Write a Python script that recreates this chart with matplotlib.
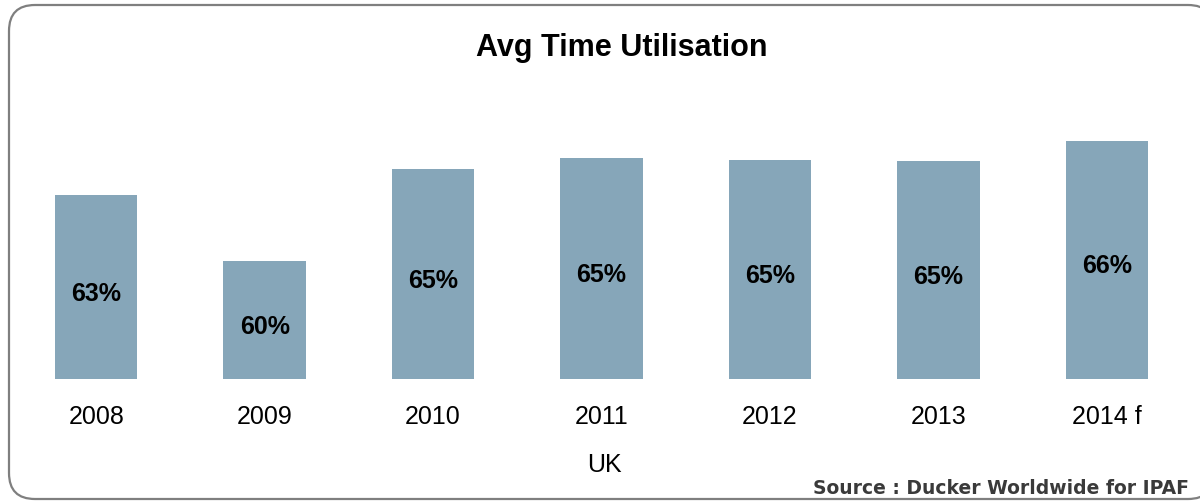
import matplotlib.pyplot as plt
from matplotlib.patches import FancyBboxPatch

# Data
years = ['2008', '2009', '2010', '2011', '2012', '2013', '2014 f']
utilisation = [63.4, 60.4, 64.6, 65.1, 65.0, 64.95, 65.9]
region = 'UK'

plt.rcParams['font.family'] = ['Liberation Sans', 'DejaVu Sans']

fig = plt.figure(figsize=(12, 5.02), dpi=100)

# background axes in pixel units, holding the rounded frame
bg = fig.add_axes([0, 0, 1, 1], zorder=-1)
bg.set_xlim(0, 1200)
bg.set_ylim(502, 0)
bg.axis('off')
bg.add_patch(FancyBboxPatch((9, 6), 1205, 494,
                            boxstyle='round,pad=0,rounding_size=26',
                            facecolor='white', edgecolor='#7f7f7f',
                            linewidth=1.6))

ax = fig.add_axes([12 / 1200, 122 / 502, 1179 / 1200, 328 / 502])
ax.patch.set_alpha(0)

x = range(len(years))
ax.bar(x, [v - 55 for v in utilisation], bottom=55, width=0.49, color='#86a6b9')

for i, v in zip(x, utilisation):
    ax.annotate(f'{round(v)}%', (i, (55 + v) / 2), xytext=(0, -4),
                textcoords='offset points', ha='center', va='center',
                fontsize=18, fontweight='bold', color='black')

ax.set_xlim(-0.5, len(years) - 0.5)
ax.set_ylim(55, 70)
ax.set_xticks(list(x))
ax.set_xticklabels(years, fontsize=18)
ax.tick_params(axis='x', length=0, pad=18)
ax.set_yticks([])
for s in ax.spines.values():
    s.set_visible(False)

fig.text(0.518, 1 - 48 / 502, 'Avg Time Utilisation', ha='center', va='center',
         fontsize=22, fontweight='bold')
fig.text(604 / 1200, 1 - 465 / 502, region, ha='center', va='center', fontsize=18)
fig.text(1189 / 1200, 1 - 489 / 502, 'Source : Ducker Worldwide for IPAF',
         ha='right', va='center', fontsize=13.5, fontweight='bold',
         family='DejaVu Sans', color='#3a3a3a')

fig.savefig('out.png', dpi=100)
